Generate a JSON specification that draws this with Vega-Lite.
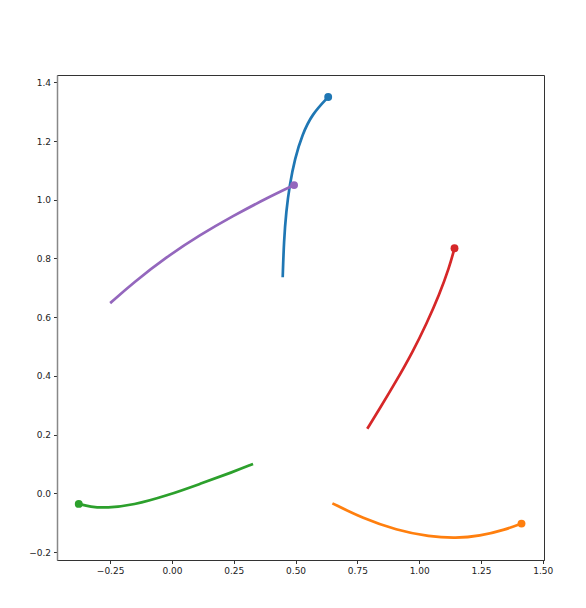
{
  "$schema": "https://vega.github.io/schema/vega-lite/v6.json",
  "width": 487,
  "height": 485,
  "autosize": "none",
  "padding": {"left": 57, "top": 75, "right": 42, "bottom": 48},
  "background": "white",
  "data": {
    "values": [
      {"s": "blue", "o": 0, "x": 0.448, "y": 0.736, "dot": false},
      {"s": "blue", "o": 1, "x": 0.453, "y": 0.860, "dot": false},
      {"s": "blue", "o": 2, "x": 0.462, "y": 0.960, "dot": false},
      {"s": "blue", "o": 3, "x": 0.476, "y": 1.050, "dot": false},
      {"s": "blue", "o": 4, "x": 0.497, "y": 1.140, "dot": false},
      {"s": "blue", "o": 5, "x": 0.527, "y": 1.222, "dot": false},
      {"s": "blue", "o": 6, "x": 0.567, "y": 1.292, "dot": false},
      {"s": "blue", "o": 7, "x": 0.632, "y": 1.350, "dot": true},
      {"s": "orange", "o": 0, "x": 0.649, "y": -0.034, "dot": false},
      {"s": "orange", "o": 1, "x": 0.772, "y": -0.085, "dot": false},
      {"s": "orange", "o": 2, "x": 0.907, "y": -0.125, "dot": false},
      {"s": "orange", "o": 3, "x": 1.042, "y": -0.148, "dot": false},
      {"s": "orange", "o": 4, "x": 1.149, "y": -0.153, "dot": false},
      {"s": "orange", "o": 5, "x": 1.243, "y": -0.146, "dot": false},
      {"s": "orange", "o": 6, "x": 1.351, "y": -0.123, "dot": false},
      {"s": "orange", "o": 7, "x": 1.414, "y": -0.103, "dot": true},
      {"s": "green", "o": 0, "x": -0.377, "y": -0.036, "dot": true},
      {"s": "green", "o": 1, "x": -0.331, "y": -0.046, "dot": false},
      {"s": "green", "o": 2, "x": -0.264, "y": -0.050, "dot": false},
      {"s": "green", "o": 3, "x": -0.156, "y": -0.040, "dot": false},
      {"s": "green", "o": 4, "x": -0.021, "y": -0.008, "dot": false},
      {"s": "green", "o": 5, "x": 0.113, "y": 0.032, "dot": false},
      {"s": "green", "o": 6, "x": 0.247, "y": 0.073, "dot": false},
      {"s": "green", "o": 7, "x": 0.328, "y": 0.100, "dot": false},
      {"s": "red", "o": 0, "x": 0.790, "y": 0.220, "dot": false},
      {"s": "red", "o": 1, "x": 0.840, "y": 0.288, "dot": false},
      {"s": "red", "o": 2, "x": 0.907, "y": 0.382, "dot": false},
      {"s": "red", "o": 3, "x": 0.974, "y": 0.482, "dot": false},
      {"s": "red", "o": 4, "x": 1.030, "y": 0.578, "dot": false},
      {"s": "red", "o": 5, "x": 1.082, "y": 0.678, "dot": false},
      {"s": "red", "o": 6, "x": 1.122, "y": 0.770, "dot": false},
      {"s": "red", "o": 7, "x": 1.143, "y": 0.835, "dot": true},
      {"s": "purple", "o": 0, "x": -0.250, "y": 0.648, "dot": false},
      {"s": "purple", "o": 1, "x": -0.156, "y": 0.718, "dot": false},
      {"s": "purple", "o": 2, "x": -0.021, "y": 0.806, "dot": false},
      {"s": "purple", "o": 3, "x": 0.113, "y": 0.880, "dot": false},
      {"s": "purple", "o": 4, "x": 0.247, "y": 0.945, "dot": false},
      {"s": "purple", "o": 5, "x": 0.382, "y": 1.005, "dot": false},
      {"s": "purple", "o": 6, "x": 0.494, "y": 1.050, "dot": true}
    ]
  },
  "encoding": {
    "x": {
      "field": "x", "type": "quantitative",
      "scale": {"domain": [-0.465, 1.505], "nice": false, "zero": false},
      "axis": {"values": [-0.25, 0, 0.25, 0.5, 0.75, 1.0, 1.25, 1.5], "format": ".2f", "title": null}
    },
    "y": {
      "field": "y", "type": "quantitative",
      "scale": {"domain": [-0.227, 1.425], "nice": false, "zero": false},
      "axis": {"values": [-0.2, 0, 0.2, 0.4, 0.6, 0.8, 1.0, 1.2, 1.4], "format": ".1f", "title": null, "domainColor": "#888888", "domainWidth": 1.5}
    },
    "color": {
      "field": "s", "type": "nominal",
      "scale": {"domain": ["blue", "orange", "green", "red", "purple"], "range": ["#1f77b4", "#ff7f0e", "#2ca02c", "#d62728", "#9467bd"]},
      "legend": null
    }
  },
  "layer": [
    {
      "mark": {"type": "line", "strokeWidth": 2.7, "interpolate": "basis"},
      "encoding": {"order": {"field": "o", "type": "quantitative"}}
    },
    {
      "transform": [{"filter": "datum.dot"}],
      "mark": {"type": "point", "filled": true, "opacity": 1, "size": 62}
    }
  ],
  "config": {
    "view": {"stroke": "#333333", "strokeWidth": 1},
    "axis": {
      "grid": false,
      "domainColor": "#333333",
      "tickColor": "#333333",
      "tickSize": 3.5,
      "labelFont": "DejaVu Sans",
      "labelFontSize": 9,
      "labelColor": "#222222",
      "labelPadding": 3
    }
  }
}
